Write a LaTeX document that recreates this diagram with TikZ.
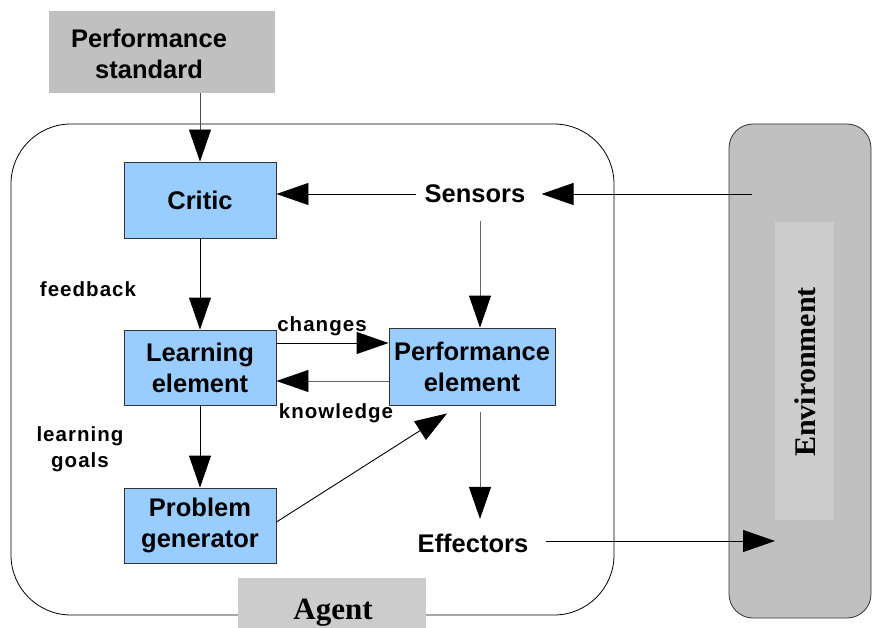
\documentclass[tikz,border=0pt]{standalone}
\usepackage{fontspec}
\setmainfont{Liberation Sans}
\newfontfamily\serifbold{Liberation Serif}[BoldFont={* Bold}]
\usetikzlibrary{arrows.meta}

\definecolor{boxblue}{HTML}{99CCFF}
\definecolor{boxgray}{HTML}{C0C0C0}
\definecolor{lightgray2}{HTML}{CCCCCC}
\definecolor{edgegray}{HTML}{333333}

\tikzset{
  mainfont/.style={font=\fontsize{25.5}{31}\selectfont\bfseries},
  labelfont/.style={font=\addfontfeature{LetterSpace=5}\fontsize{20.5}{26}\selectfont\bfseries},
  bluebox/.style={draw=edgegray, line width=0.9pt, fill=boxblue, mainfont,
                  align=center, inner sep=0pt},
  plaintext/.style={mainfont, inner sep=8pt},
  lbl/.style={labelfont, align=center, inner sep=0pt},
  arr/.style={line width=0.9pt, -{Triangle[length=32pt,width=22pt,color=black]}},
}

\begin{document}
\begin{tikzpicture}[x=1pt,y=-1pt]
  \useasboundingbox (0,0) rectangle (872,628);

  % agent outline and its label
  \draw[line width=0.8pt, rounded corners=60pt] (11,124) rectangle (614,615);
  \node[fill=lightgray2, minimum width=188pt, minimum height=55pt, inner sep=0pt]
        (agent) at (332,605.5) {};
  \node[font=\serifbold\fontsize{31}{31}\selectfont\bfseries, anchor=base, inner sep=0pt]
        (agenttext) at (333,619) {Agent};

  % environment
  \draw[draw=edgegray, line width=0.8pt, fill=boxgray, rounded corners=24pt]
        (729,124) rectangle (871,618);
  \node[fill=lightgray2, minimum width=59pt, minimum height=298pt, inner sep=0pt]
        (envinner) at (804.5,371) {};
  \node[rotate=90, inner sep=0pt, font=\serifbold\fontsize{30}{30}\selectfont\bfseries]
        (env) at (805,372) {Environment};

  % performance standard (text sits left of the box centre)
  \node[fill=boxgray, minimum width=226pt, minimum height=82pt, inner sep=0pt]
        (ps) at (162,52) {};
  \node[mainfont, align=center, inner sep=0pt] (pstext) at (149,53.5)
        {Performance\\standard};

  % agent components
  \node[bluebox, minimum width=152pt, minimum height=76pt] (critic) at (200,200) {Critic};
  \node[bluebox, minimum width=152pt, minimum height=75pt] (learn) at (200,367.5)
        {Learning\\element};
  \node[bluebox, minimum width=152pt, minimum height=75pt] (problem) at (200,525.5)
        {Problem\\generator};
  \node[bluebox, minimum width=166pt, minimum height=77pt] (perf) at (472,366.5)
        {Performance\\element};

  \node[plaintext] (sensors) at (475,194) {Sensors};
  \node[plaintext] (effectors) at (473,543.5) {Effectors};

  % free ends on the environment side
  \coordinate (envS) at (752,194);
  \coordinate (envE) at (775,541);

  % connector labels
  \node[lbl] (feedback) at (88,289) {feedback};
  \node[lbl] (goals) at (80,449) {learning\\goals};
  \node[lbl] (changes) at (322,326) {changes};
  \node[lbl] (knowledge) at (336,413) {knowledge};

  % connectors
  \draw[arr, draw=black!70] (ps.south -| critic.north) -- (critic.north);
  \draw[arr] (sensors.west) -- (critic.east |- sensors.west);
  \draw[arr] (envS) -- ([xshift=8pt]sensors.east);
  \draw[arr, draw=black!60] ([xshift=5pt,yshift=-10pt]sensors.south)
        -- ([xshift=5pt]sensors.south |- perf.north);
  \draw[arr] (critic.south) -- (learn.north);
  \draw[arr] (learn.east |- 0,343) -- (perf.west |- 0,343);
  \draw[arr, draw=black!60] (perf.west |- 0,381) -- (learn.east |- 0,381);
  \draw[arr] (learn.south) -- (problem.north);
  \draw[arr] (problem.east |- 0,522) -- ([xshift=-25pt,yshift=-8pt]perf.south);
  \draw[arr, draw=black!60] ([xshift=8pt,yshift=-7pt]perf.south)
        -- ([xshift=8pt,yshift=7pt]perf.south |- effectors.north);
  \draw[arr] ([xshift=10pt]effectors.east |- envE) -- (envE);
\end{tikzpicture}
\end{document}
